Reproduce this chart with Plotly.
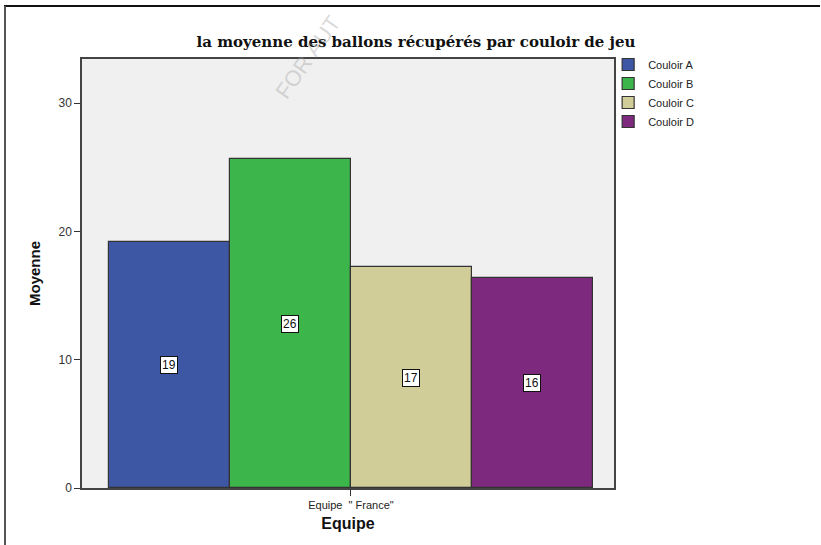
import plotly.graph_objects as go

series = ["Couloir A", "Couloir B", "Couloir C", "Couloir D"]
values = [19.17, 25.64, 17.22, 16.37]
labels = ["19", "26", "17", "16"]
colors = ["#3D57A5", "#3CB54B", "#D1CD98", "#7D2A7E"]
category = 'Equipe  " France"'
yticks = [0, 10, 20, 30]

fig = go.Figure()
for i, (name, v, c) in enumerate(zip(series, values, colors)):
    fig.add_trace(go.Bar(
        x=[i], y=[v], width=1, name=name,
        marker=dict(color=c, line=dict(color="#333333", width=1.2)),
        hoverinfo="y",
    ))
    fig.add_annotation(
        x=i, y=v / 2, text=labels[i], showarrow=False,
        font=dict(family="Liberation Sans, Arial", size=12, color="#111111"),
        bgcolor="white", bordercolor="#111111", borderwidth=1, borderpad=1,
    )

fig.update_layout(
    width=821, height=545,
    margin=dict(l=82, r=207, t=59, b=57),
    paper_bgcolor="white",
    plot_bgcolor="#F0F0F0",
    showlegend=True,
    bargap=0,
    title=dict(
        text="<b>la moyenne des ballons récupérés par couloir de jeu</b>",
        font=dict(family="DejaVu Serif", size=15, color="#111111"),
        x=416 / 821, xanchor="center", y=1 - 42 / 545, yanchor="middle",
    ),
    legend=dict(
        x=0.989, y=1.021, xanchor="left", yanchor="top",
        font=dict(family="Liberation Sans, Arial", size=11, color="#222222"),
        tracegroupgap=0, itemwidth=30,
        bgcolor="rgba(0,0,0,0)",
    ),
    xaxis=dict(
        range=[-0.723, 3.674],
        tickvals=[1.5], ticktext=[category],
        ticks="outside", ticklen=6, tickcolor="#333333",
        showgrid=False, zeroline=False,
        showline=True, linecolor="#444444", linewidth=1.5, mirror=True,
        tickfont=dict(family="Liberation Sans, Arial", size=11, color="#222222"),
        title=dict(text="<b>Equipe</b>", standoff=8,
                   font=dict(family="Liberation Sans, Arial", size=16, color="#111111")),
    ),
    yaxis=dict(
        range=[0, 33.44],
        tickvals=yticks,
        ticks="outside", ticklen=6, tickcolor="#333333",
        showgrid=False, zeroline=False,
        showline=True, linecolor="#444444", linewidth=1.5, mirror=True,
        tickfont=dict(family="Liberation Sans, Arial", size=12, color="#333333"),
        title=dict(text="<b>Moyenne</b>", standoff=14,
                   font=dict(family="Liberation Sans, Arial", size=15, color="#111111")),
    ),
)

# page frame lines (top and left)
fig.add_shape(type="line", xref="paper", yref="paper",
              x0=-78 / 532, x1=(820 - 82) / 532, y0=1 + 53 / 429, y1=1 + 53 / 429,
              line=dict(color="#111111", width=2))
fig.add_shape(type="line", xref="paper", yref="paper",
              x0=-77 / 532, x1=-77 / 532, y0=1 + 53 / 429, y1=-57 / 429,
              line=dict(color="#555555", width=2))

# watermark
fig.add_annotation(
    xref="paper", yref="paper", x=(308 - 82) / 532, y=(488 - 58) / 429,
    xanchor="center", yanchor="middle",
    text="FOR AUT", showarrow=False, textangle=-55,
    font=dict(family="Liberation Sans, Arial", size=22, color="rgba(150,150,150,0.35)"),
)

fig.write_html("out.html", config={"displayModeBar": False},
               post_script="document.body.style.margin='0';window.dispatchEvent(new Event('resize'));")
